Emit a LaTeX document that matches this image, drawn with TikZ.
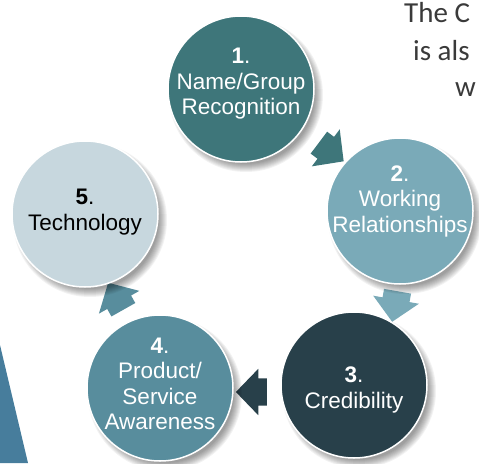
\documentclass[tikz,border=0pt]{standalone}
\usepackage{fontspec}
\setmainfont{Liberation Sans}
\newfontfamily\bodyfont{Carlito}
\usetikzlibrary{shapes.arrows}

\definecolor{cOne}{HTML}{3E767A}
\definecolor{cTwo}{HTML}{7AAAB8}
\definecolor{cThree}{HTML}{28404A}
\definecolor{cFour}{HTML}{588D9D}
\definecolor{cFive}{HTML}{C7D7DE}
\definecolor{sideblue}{HTML}{477D9C}
\definecolor{bodygray}{HTML}{3A3A3A}

\begin{document}
\begin{tikzpicture}[x=1pt,y=-1pt,
  stage/.style={circle, minimum size=146pt, inner sep=0pt, draw=white, line width=1.5pt},
  stagetext/.style={align=center, inner sep=0pt, font=\fontsize{22.5}{25.5}\selectfont, text=white},
  cyclearrow/.style={single arrow, inner xsep=0pt, inner ysep=13.5pt, minimum height=31pt,
    single arrow head extend=9.5pt, single arrow tip angle=92, draw=none},
  bodytext/.style={anchor=base west, inner sep=0pt, text=bodygray, font=\bodyfont\fontsize{29}{35}\selectfont}]

\useasboundingbox (0,0) rectangle (479,463);
\clip (0,0) rectangle (479,463);

% running text of the page behind the diagram
\node[bodytext] (line1) at (404,22) {The C};
\node[bodytext] (line2) at (413,60) {is als};
\node[bodytext] (line3) at (455,96) {w};

% page decoration at the lower left
\fill[sideblue] (0,345) -- (28,463) -- (0,463) -- cycle;

% block arrows of the cycle
\node[cyclearrow, fill=cOne,   rotate=-37]   (a12) at (326,148) {};
\node[cyclearrow, fill=cTwo,   rotate=-100]  (a23) at (396,300) {};
\node[cyclearrow, fill=cThree, rotate=180]   (a34) at (258,392) {};
\node[cyclearrow, fill=cFour,  rotate=119.4] (a45) at (119,302) {};

% soft shadows below the stages
\foreach \px/\py in {241/89, 400/211, 354/385, 160/388, 85/214}{
  \foreach \k in {1,...,9}{
    \fill[black, opacity=0.05] (\px+5,\py+6) circle (78-\k);
  }
}

% the five stages
\node[stage, fill=cOne]   (c1) at (241,89)  {};
\node[stage, fill=cTwo]   (c2) at (400,211) {};
\node[stage, fill=cThree] (c3) at (354,385) {};
\node[stage, fill=cFour]  (c4) at (160,388) {};
\node[stage, fill=cFive]  (c5) at (85,214)  {};

\node[stagetext] (t1) at ([yshift=5pt]c1.center) {\textbf{1}.\\Name/Group\\Recognition};
\node[stagetext] (t2) at ([yshift=10pt]c2.center) {\textbf{2}.\\Working\\Relationships};
\node[stagetext] (t3) at ([yshift=-5pt]c3.center) {\textbf{3}.\\Credibility};
\node[stagetext] (t4) at ([yshift=4pt]c4.center) {\textbf{4}.\\Product/\\Service\\Awareness};
\node[stagetext, text=black] (t5) at ([yshift=2pt]c5.center) {\textbf{5}.\\Technology};

\end{tikzpicture}
\end{document}
